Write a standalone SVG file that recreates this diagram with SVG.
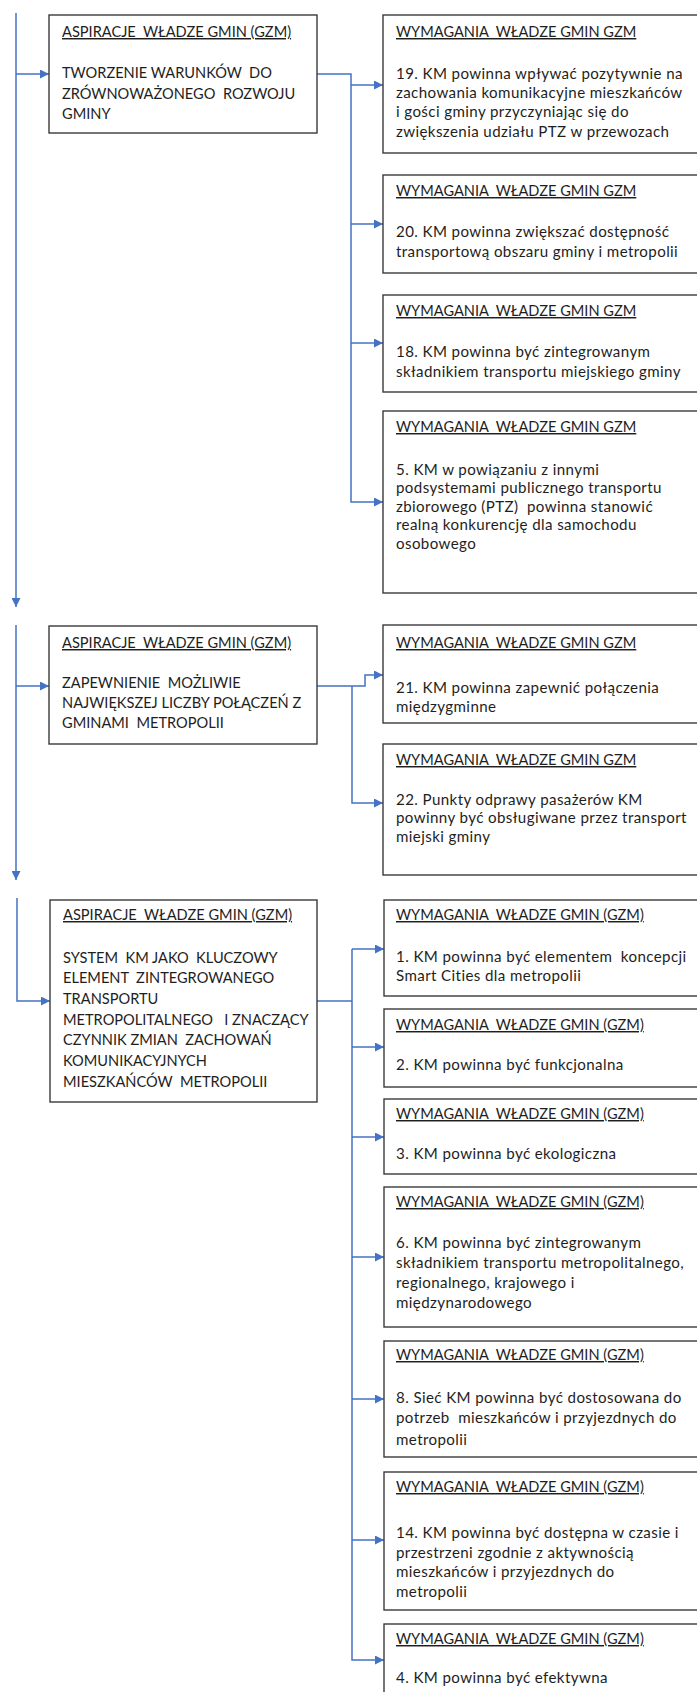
<svg xmlns="http://www.w3.org/2000/svg" width="697" height="1692" viewBox="0 0 697 1692">
  <style>
    .box { fill: #ffffff; stroke: #3a3a3a; stroke-width: 1.4; }
    .t { font-family: Lato, "Liberation Sans", sans-serif; font-size: 15.1px; letter-spacing: 0.4px; fill: #1e1e1e; white-space: pre; }
    .c { font-size: 14.6px; letter-spacing: 0; }
    .h { font-size: 14.6px; letter-spacing: 0; text-decoration: underline; }
    .wire { fill: none; stroke: #4472c4; stroke-width: 1.5; }
  </style>
  <defs>
    <marker id="arrow" viewBox="0 0 10 10" refX="10" refY="5" markerWidth="9" markerHeight="9" markerUnits="userSpaceOnUse" orient="auto">
      <path d="M0,0 L10,5 L0,10 Z" fill="#4472c4"/>
    </marker>
  </defs>

  <rect width="697" height="1692" fill="#ffffff"/>

  <!-- connectors -->
  <g id="connectors">
    <!-- main left spine -->
    <path class="wire" d="M16,13 V607" marker-end="url(#arrow)"/>
    <path class="wire" d="M16,74 H49" marker-end="url(#arrow)"/>
    <path class="wire" d="M16,625 V880" marker-end="url(#arrow)"/>
    <path class="wire" d="M16,686 H49" marker-end="url(#arrow)"/>
    <path class="wire" d="M17,898 V1001 H50" marker-end="url(#arrow)"/>

    <!-- group 1 -->
    <path class="wire" d="M317,74 H351 V502 H383" marker-end="url(#arrow)"/>
    <path class="wire" d="M351,85 H383" marker-end="url(#arrow)"/>
    <path class="wire" d="M351,224 H383" marker-end="url(#arrow)"/>
    <path class="wire" d="M351,343 H383" marker-end="url(#arrow)"/>

    <!-- group 2 -->
    <path class="wire" d="M317,686 H365 V675 H383" marker-end="url(#arrow)"/>
    <path class="wire" d="M352,686 V803 H383" marker-end="url(#arrow)"/>

    <!-- group 3 -->
    <path class="wire" d="M317,1001 H352"/>
    <path class="wire" d="M352,949 V1660 H384" marker-end="url(#arrow)"/>
    <path class="wire" d="M352,949 H384" marker-end="url(#arrow)"/>
    <path class="wire" d="M352,1047 H384" marker-end="url(#arrow)"/>
    <path class="wire" d="M352,1137 H384" marker-end="url(#arrow)"/>
    <path class="wire" d="M352,1257 H384" marker-end="url(#arrow)"/>
    <path class="wire" d="M352,1399 H384" marker-end="url(#arrow)"/>
    <path class="wire" d="M352,1540 H384" marker-end="url(#arrow)"/>
  </g>

  <!-- aspiration 1 -->
  <g id="asp1">
    <rect class="box" x="49" y="15" width="268" height="118"/>
    <text class="t h" x="62" y="37">ASPIRACJE  WŁADZE GMIN (GZM)</text>
    <text class="t c" x="62" y="78">TWORZENIE WARUNKÓW  DO</text>
    <text class="t c" x="62" y="99">ZRÓWNOWAŻONEGO  ROZWOJU</text>
    <text class="t c" x="62" y="119">GMINY</text>
  </g>

  <g id="req19">
    <rect class="box" x="383" y="15" width="330" height="138"/>
    <text class="t h" x="396" y="37">WYMAGANIA  WŁADZE GMIN GZM</text>
    <text class="t" x="396" y="79">19. KM powinna wpływać pozytywnie na</text>
    <text class="t" x="396" y="98">zachowania komunikacyjne mieszkańców</text>
    <text class="t" x="396" y="117">i gości gminy przyczyniając się do</text>
    <text class="t" x="396" y="137">zwiększenia udziału PTZ w przewozach</text>
  </g>

  <g id="req20">
    <rect class="box" x="383" y="175" width="330" height="98"/>
    <text class="t h" x="396" y="196">WYMAGANIA  WŁADZE GMIN GZM</text>
    <text class="t" x="396" y="237">20. KM powinna zwiększać dostępność</text>
    <text class="t" x="396" y="257">transportową obszaru gminy i metropolii</text>
  </g>

  <g id="req18">
    <rect class="box" x="383" y="295" width="330" height="97"/>
    <text class="t h" x="396" y="316">WYMAGANIA  WŁADZE GMIN GZM</text>
    <text class="t" x="396" y="357">18. KM powinna być zintegrowanym</text>
    <text class="t" x="396" y="377">składnikiem transportu miejskiego gminy</text>
  </g>

  <g id="req5">
    <rect class="box" x="383" y="411" width="330" height="182"/>
    <text class="t h" x="396" y="432">WYMAGANIA  WŁADZE GMIN GZM</text>
    <text class="t" x="396" y="475">5. KM w powiązaniu z innymi</text>
    <text class="t" x="396" y="493">podsystemami publicznego transportu</text>
    <text class="t" x="396" y="512">zbiorowego (PTZ)  powinna stanowić</text>
    <text class="t" x="396" y="530">realną konkurencję dla samochodu</text>
    <text class="t" x="396" y="549">osobowego</text>
  </g>

  <!-- aspiration 2 -->
  <g id="asp2">
    <rect class="box" x="49" y="626" width="268" height="118"/>
    <text class="t h" x="62" y="648">ASPIRACJE  WŁADZE GMIN (GZM)</text>
    <text class="t c" x="62" y="688">ZAPEWNIENIE  MOŻLIWIE</text>
    <text class="t c" x="62" y="708">NAJWIĘKSZEJ LICZBY POŁĄCZEŃ Z</text>
    <text class="t c" x="62" y="728">GMINAMI  METROPOLII</text>
  </g>

  <g id="req21">
    <rect class="box" x="383" y="625" width="330" height="98"/>
    <text class="t h" x="396" y="648">WYMAGANIA  WŁADZE GMIN GZM</text>
    <text class="t" x="396" y="693">21. KM powinna zapewnić połączenia</text>
    <text class="t" x="396" y="712">międzygminne</text>
  </g>

  <g id="req22">
    <rect class="box" x="383" y="744" width="330" height="131"/>
    <text class="t h" x="396" y="765">WYMAGANIA  WŁADZE GMIN GZM</text>
    <text class="t" x="396" y="805">22. Punkty odprawy pasażerów KM</text>
    <text class="t" x="396" y="823">powinny być obsługiwane przez transport</text>
    <text class="t" x="396" y="842">miejski gminy</text>
  </g>

  <!-- aspiration 3 -->
  <g id="asp3">
    <rect class="box" x="50" y="900" width="267" height="202"/>
    <text class="t h" x="63" y="920">ASPIRACJE  WŁADZE GMIN (GZM)</text>
    <text class="t c" x="63" y="963">SYSTEM  KM JAKO  KLUCZOWY</text>
    <text class="t c" x="63" y="983">ELEMENT  ZINTEGROWANEGO</text>
    <text class="t c" x="63" y="1004">TRANSPORTU</text>
    <text class="t c" x="63" y="1025">METROPOLITALNEGO   I ZNACZĄCY</text>
    <text class="t c" x="63" y="1045">CZYNNIK ZMIAN  ZACHOWAŃ</text>
    <text class="t c" x="63" y="1066">KOMUNIKACYJNYCH</text>
    <text class="t c" x="63" y="1087">MIESZKAŃCÓW  METROPOLII</text>
  </g>

  <g id="req1">
    <rect class="box" x="384" y="900" width="330" height="96"/>
    <text class="t h" x="396" y="920">WYMAGANIA  WŁADZE GMIN (GZM)</text>
    <text class="t" x="396" y="962">1. KM powinna być elementem  koncepcji</text>
    <text class="t" x="396" y="981">Smart Cities dla metropolii</text>
  </g>

  <g id="req2">
    <rect class="box" x="384" y="1009" width="330" height="78"/>
    <text class="t h" x="396" y="1030">WYMAGANIA  WŁADZE GMIN (GZM)</text>
    <text class="t" x="396" y="1070">2. KM powinna być funkcjonalna</text>
  </g>

  <g id="req3">
    <rect class="box" x="384" y="1099" width="330" height="75"/>
    <text class="t h" x="396" y="1119">WYMAGANIA  WŁADZE GMIN (GZM)</text>
    <text class="t" x="396" y="1159">3. KM powinna być ekologiczna</text>
  </g>

  <g id="req6">
    <rect class="box" x="384" y="1187" width="330" height="140"/>
    <text class="t h" x="396" y="1207">WYMAGANIA  WŁADZE GMIN (GZM)</text>
    <text class="t" x="396" y="1248">6. KM powinna być zintegrowanym</text>
    <text class="t" x="396" y="1268">składnikiem transportu metropolitalnego,</text>
    <text class="t" x="396" y="1288">regionalnego, krajowego i</text>
    <text class="t" x="396" y="1308">międzynarodowego</text>
  </g>

  <g id="req8">
    <rect class="box" x="384" y="1341" width="330" height="116"/>
    <text class="t h" x="396" y="1360">WYMAGANIA  WŁADZE GMIN (GZM)</text>
    <text class="t" x="396" y="1403">8. Sieć KM powinna być dostosowana do</text>
    <text class="t" x="396" y="1423">potrzeb  mieszkańców i przyjezdnych do</text>
    <text class="t" x="396" y="1445">metropolii</text>
  </g>

  <g id="req14">
    <rect class="box" x="384" y="1472" width="330" height="138"/>
    <text class="t h" x="396" y="1492">WYMAGANIA  WŁADZE GMIN (GZM)</text>
    <text class="t" x="396" y="1538">14. KM powinna być dostępna w czasie i</text>
    <text class="t" x="396" y="1558">przestrzeni zgodnie z aktywnością</text>
    <text class="t" x="396" y="1577">mieszkańców i przyjezdnych do</text>
    <text class="t" x="396" y="1597">metropolii</text>
  </g>

  <g id="req4">
    <rect class="box" x="384" y="1624" width="330" height="90"/>
    <text class="t h" x="396" y="1644">WYMAGANIA  WŁADZE GMIN (GZM)</text>
    <text class="t" x="396" y="1683">4. KM powinna być efektywna</text>
  </g>
</svg>
